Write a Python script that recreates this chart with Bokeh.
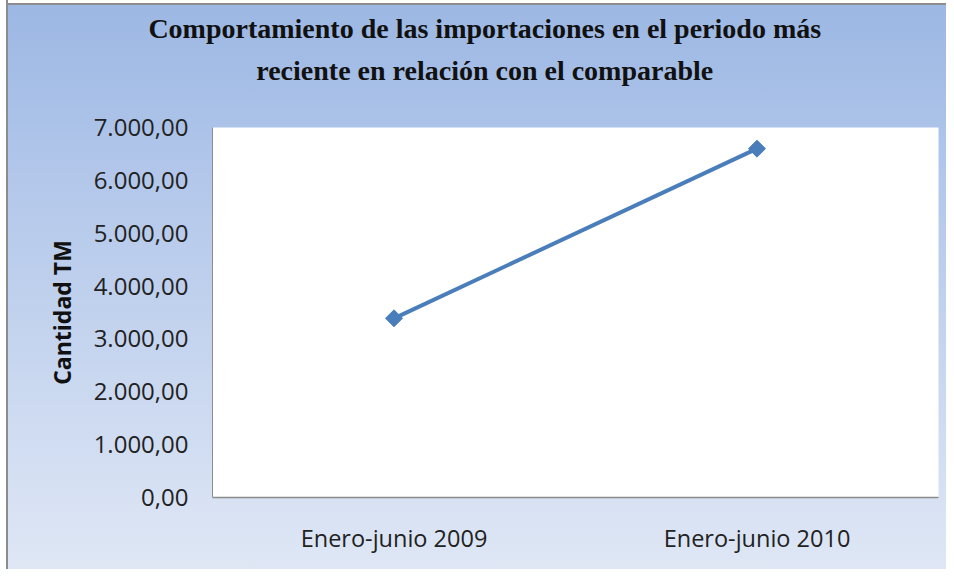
import math
from bokeh.plotting import figure
from bokeh.models import FixedTicker, Range1d, LinearAxis
from bokeh.embed import file_html
from bokeh.resources import INLINE

# ---- data ----
periods = ["Enero-junio 2009", "Enero-junio 2010"]
cantidad_tm = [3390.0, 6600.0]
y_ticks = [0, 1000, 2000, 3000, 4000, 5000, 6000, 7000]
y_tick_labels = ["0,00", "1.000,00", "2.000,00", "3.000,00", "4.000,00",
                 "5.000,00", "6.000,00", "7.000,00"]
title_lines = ["Comportamiento de las importaciones en el periodo más",
               "reciente en relación con el comparable"]
y_title = "Cantidad TM"

# category slots on a numeric axis: each period centred in its own unit slot
x_pos = [i + 0.5 for i in range(len(periods))]

# ---- layout (pixels) ----
W, H = 946, 569
LEFT, RIGHT, TOP, BOTTOM = 212, 938, 127, 497
TITLE_X = 0.75                     # title centre, in slot units

p = figure(width=W, height=H, output_backend="svg",
           toolbar_location=None, tools="", title_location=None,
           min_border_left=LEFT, min_border_right=W - RIGHT,
           min_border_top=TOP, min_border_bottom=H - BOTTOM)
p.x_range = Range1d(0, len(periods))
p.y_range = Range1d(0, y_ticks[-1])

p.border_fill_color = None
p.background_fill_color = "white"
p.outline_line_color = None
p.styles = {"background-image":
            "linear-gradient(to right, #ffffff 0px, #ffffff 6px, #8c8c8c 6px, #8c8c8c 8px, rgba(255,255,255,0) 8px),"
            "linear-gradient(to bottom, #ffffff 0px, #ffffff 3px, #8c8c8c 3px, #8c8c8c 5px, rgba(255,255,255,0) 5px),"
            "linear-gradient(to bottom, #9bb7e3 0%, #aec4e9 25%, #dfe7f5 100%)"}
p.xgrid.grid_line_color = None
p.ygrid.grid_line_color = None

p.line(x_pos, cantidad_tm, line_color="#4a7ebb", line_width=4)
p.scatter(x_pos, cantidad_tm, marker="square", size=12, angle=math.pi / 4,
          fill_color="#4a7ebb", line_color="#4a7ebb")

# chart title: two centred lines drawn as single-tick axes above the plot
for txt, standoff in [(title_lines[1], 36), (title_lines[0], 2)]:
    ax = LinearAxis(ticker=FixedTicker(ticks=[TITLE_X]),
                    major_label_overrides={TITLE_X: txt},
                    axis_line_color=None, major_tick_line_color=None,
                    minor_tick_line_color=None, major_label_standoff=standoff,
                    major_label_text_font="Liberation Serif",
                    major_label_text_font_style="bold",
                    major_label_text_font_size="28px",
                    major_label_text_color="#111111")
    p.add_layout(ax, "above")

# y axis
p.yaxis.ticker = FixedTicker(ticks=y_ticks)
p.yaxis.major_label_overrides = {t: l for t, l in zip(y_ticks, y_tick_labels)}
p.yaxis.major_tick_line_color = None
p.yaxis.minor_tick_line_color = None
p.yaxis.axis_line_color = "#8c8c8c"
p.yaxis.major_label_text_font = "Open Sans"
p.yaxis.major_label_text_font_size = "24px"
p.yaxis.major_label_text_color = "#222222"
p.yaxis.major_label_standoff = 18
p.yaxis.axis_label = y_title
p.yaxis.axis_label_text_font = "Open Sans"
p.yaxis.axis_label_text_font_style = "bold"
p.yaxis.axis_label_text_font_size = "23px"
p.yaxis.axis_label_text_color = "#111111"
p.yaxis.axis_label_standoff = 13

# x axis (period labels, below)
xa = p.below[0]
xa.ticker = FixedTicker(ticks=x_pos)
xa.major_label_overrides = {x: lab for x, lab in zip(x_pos, periods)}
xa.major_tick_line_color = None
xa.minor_tick_line_color = None
xa.axis_line_color = "#8c8c8c"
xa.axis_line_width = 1.5
xa.major_label_text_font = "Open Sans"
xa.major_label_text_font_size = "23.5px"
xa.major_label_text_color = "#222222"
xa.major_label_standoff = 18

open("out.html", "w").write(file_html(p, INLINE))
